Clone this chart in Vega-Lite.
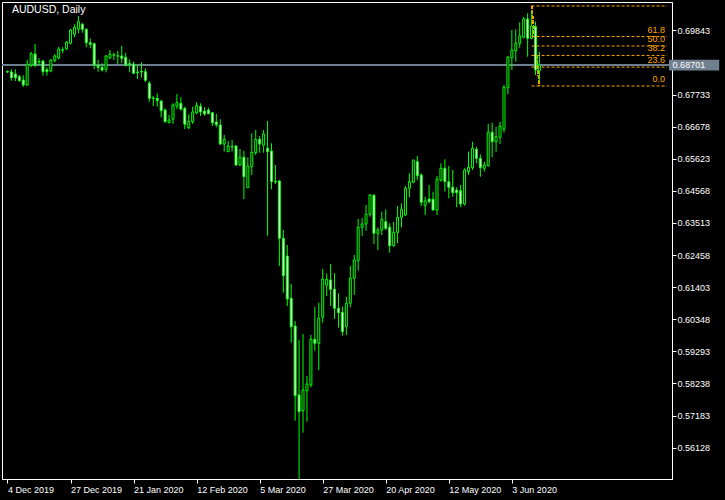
{
  "$schema": "https://vega.github.io/schema/vega-lite/v6.json",
  "width": 670,
  "height": 477,
  "autosize": {"type": "none"},
  "padding": {"left": 2, "top": 2, "right": 53, "bottom": 21},
  "background": "#000000",
  "config": {
    "view": {"stroke": "#ffffff", "strokeWidth": 1, "fill": "#000000"},
    "axis": {"grid": false, "domainColor": "#ffffff", "tickColor": "#ffffff", "labelColor": "#ffffff", "labelFont": "Liberation Sans", "labelFontSize": 9, "tickSize": 4, "zindex": 0, "labelOverlap": false, "labelSeparation": 0}
  },
  "datasets": {
    "candles": [
      {"i":0,"open":0.68493,"high":0.68526,"low":0.68443,"close":0.68476},
      {"i":1,"open":0.68476,"high":0.68565,"low":0.68190,"close":0.68289},
      {"i":2,"open":0.68411,"high":0.68565,"low":0.68180,"close":0.68289},
      {"i":3,"open":0.68322,"high":0.68378,"low":0.68157,"close":0.68190},
      {"i":4,"open":0.68213,"high":0.68367,"low":0.67983,"close":0.68049},
      {"i":5,"open":0.68049,"high":0.68871,"low":0.68016,"close":0.68730},
      {"i":6,"open":0.68707,"high":0.69144,"low":0.68631,"close":0.69078},
      {"i":7,"open":0.69068,"high":0.69397,"low":0.68631,"close":0.68707},
      {"i":8,"open":0.68822,"high":0.68927,"low":0.68707,"close":0.68805},
      {"i":9,"open":0.68838,"high":0.68871,"low":0.68355,"close":0.68486},
      {"i":10,"open":0.68552,"high":0.68631,"low":0.68355,"close":0.68486},
      {"i":11,"open":0.68509,"high":0.68894,"low":0.68466,"close":0.68871},
      {"i":12,"open":0.68848,"high":0.69059,"low":0.68795,"close":0.69003},
      {"i":13,"open":0.68937,"high":0.69308,"low":0.68894,"close":0.69233},
      {"i":14,"open":0.69190,"high":0.69289,"low":0.69092,"close":0.69210},
      {"i":15,"open":0.69233,"high":0.69495,"low":0.69200,"close":0.69463},
      {"i":16,"open":0.69419,"high":0.69890,"low":0.69387,"close":0.69857},
      {"i":17,"open":0.69716,"high":0.70044,"low":0.69617,"close":0.69946},
      {"i":18,"open":0.69880,"high":0.70317,"low":0.69748,"close":0.70130},
      {"i":19,"open":0.70044,"high":0.70097,"low":0.69768,"close":0.69880},
      {"i":20,"open":0.69880,"high":0.69913,"low":0.69288,"close":0.69439},
      {"i":21,"open":0.69439,"high":0.69584,"low":0.69255,"close":0.69387},
      {"i":22,"open":0.69407,"high":0.69439,"low":0.68575,"close":0.68707},
      {"i":23,"open":0.68684,"high":0.68871,"low":0.68486,"close":0.68631},
      {"i":24,"open":0.68631,"high":0.68762,"low":0.68486,"close":0.68542},
      {"i":25,"open":0.68565,"high":0.69036,"low":0.68466,"close":0.69003},
      {"i":26,"open":0.68947,"high":0.69200,"low":0.68894,"close":0.69059},
      {"i":27,"open":0.69026,"high":0.69111,"low":0.68871,"close":0.69045},
      {"i":28,"open":0.68993,"high":0.69167,"low":0.68739,"close":0.69012},
      {"i":29,"open":0.69003,"high":0.69341,"low":0.68762,"close":0.68927},
      {"i":30,"open":0.68960,"high":0.69111,"low":0.68651,"close":0.68707},
      {"i":31,"open":0.68749,"high":0.68894,"low":0.68466,"close":0.68730},
      {"i":32,"open":0.68739,"high":0.68815,"low":0.68411,"close":0.68433},
      {"i":33,"open":0.68476,"high":0.68707,"low":0.68246,"close":0.68457},
      {"i":34,"open":0.68496,"high":0.68795,"low":0.68289,"close":0.68476},
      {"i":35,"open":0.68486,"high":0.68598,"low":0.68157,"close":0.68203},
      {"i":36,"open":0.68105,"high":0.68180,"low":0.67500,"close":0.67612},
      {"i":37,"open":0.67622,"high":0.67687,"low":0.67359,"close":0.67602},
      {"i":38,"open":0.67612,"high":0.67776,"low":0.67336,"close":0.67533},
      {"i":39,"open":0.67523,"high":0.67556,"low":0.66987,"close":0.67204},
      {"i":40,"open":0.67227,"high":0.67283,"low":0.66810,"close":0.66843},
      {"i":41,"open":0.66810,"high":0.67063,"low":0.66790,"close":0.66899},
      {"i":42,"open":0.66922,"high":0.67447,"low":0.66767,"close":0.67392},
      {"i":43,"open":0.67359,"high":0.67753,"low":0.67250,"close":0.67467},
      {"i":44,"open":0.67447,"high":0.67645,"low":0.67204,"close":0.67260},
      {"i":45,"open":0.67283,"high":0.67336,"low":0.66603,"close":0.66757},
      {"i":46,"open":0.66646,"high":0.67086,"low":0.66593,"close":0.66856},
      {"i":47,"open":0.66843,"high":0.67336,"low":0.66767,"close":0.67162},
      {"i":48,"open":0.67129,"high":0.67480,"low":0.67086,"close":0.67382},
      {"i":49,"open":0.67349,"high":0.67447,"low":0.67030,"close":0.67162},
      {"i":50,"open":0.67195,"high":0.67316,"low":0.67040,"close":0.67096},
      {"i":51,"open":0.67227,"high":0.67303,"low":0.67086,"close":0.67106},
      {"i":52,"open":0.67139,"high":0.67162,"low":0.66701,"close":0.66810},
      {"i":53,"open":0.66833,"high":0.67096,"low":0.66659,"close":0.66744},
      {"i":54,"open":0.66734,"high":0.66922,"low":0.66077,"close":0.66110},
      {"i":55,"open":0.66110,"high":0.66406,"low":0.65857,"close":0.66264},
      {"i":56,"open":0.65857,"high":0.66208,"low":0.65857,"close":0.66044},
      {"i":57,"open":0.66031,"high":0.66241,"low":0.65857,"close":0.66011},
      {"i":58,"open":0.66044,"high":0.66077,"low":0.65387,"close":0.65420},
      {"i":59,"open":0.65420,"high":0.65945,"low":0.65387,"close":0.65673},
      {"i":60,"open":0.65673,"high":0.65880,"low":0.64302,"close":0.65035},
      {"i":61,"open":0.64673,"high":0.65673,"low":0.64673,"close":0.65387},
      {"i":62,"open":0.65364,"high":0.66461,"low":0.65091,"close":0.65837},
      {"i":63,"open":0.65824,"high":0.66570,"low":0.65748,"close":0.66264},
      {"i":64,"open":0.66264,"high":0.66372,"low":0.65824,"close":0.66110},
      {"i":65,"open":0.66077,"high":0.66570,"low":0.65824,"close":0.66438},
      {"i":66,"open":0.65969,"high":0.66866,"low":0.63096,"close":0.65857},
      {"i":67,"open":0.65880,"high":0.66133,"low":0.64621,"close":0.64871},
      {"i":68,"open":0.64881,"high":0.65420,"low":0.64795,"close":0.64861},
      {"i":69,"open":0.64894,"high":0.64927,"low":0.62100,"close":0.63010},
      {"i":70,"open":0.63010,"high":0.63283,"low":0.61222,"close":0.61781},
      {"i":71,"open":0.62429,"high":0.62790,"low":0.60785,"close":0.61015},
      {"i":72,"open":0.61038,"high":0.61508,"low":0.59578,"close":0.60104},
      {"i":73,"open":0.60127,"high":0.60291,"low":0.57015,"close":0.57836},
      {"i":74,"open":0.57860,"high":0.59668,"low":0.54901,"close":0.57311},
      {"i":75,"open":0.57344,"high":0.59865,"low":0.56620,"close":0.58025},
      {"i":76,"open":0.58002,"high":0.58484,"low":0.56982,"close":0.58221},
      {"i":77,"open":0.58188,"high":0.59832,"low":0.58113,"close":0.59691},
      {"i":78,"open":0.59691,"high":0.60762,"low":0.59316,"close":0.59559},
      {"i":79,"open":0.59559,"high":0.60893,"low":0.58682,"close":0.60380},
      {"i":80,"open":0.60413,"high":0.62002,"low":0.60236,"close":0.61663},
      {"i":81,"open":0.61475,"high":0.61858,"low":0.61114,"close":0.61663},
      {"i":82,"open":0.61640,"high":0.62166,"low":0.60785,"close":0.61334},
      {"i":83,"open":0.61334,"high":0.61858,"low":0.60358,"close":0.60710},
      {"i":84,"open":0.60710,"high":0.61202,"low":0.60072,"close":0.60565},
      {"i":85,"open":0.60578,"high":0.60762,"low":0.59809,"close":0.59941},
      {"i":86,"open":0.60104,"high":0.61091,"low":0.59832,"close":0.60874},
      {"i":87,"open":0.60874,"high":0.62100,"low":0.60742,"close":0.61695},
      {"i":88,"open":0.61695,"high":0.62462,"low":0.61147,"close":0.62297},
      {"i":89,"open":0.62274,"high":0.63645,"low":0.61946,"close":0.63372},
      {"i":90,"open":0.63372,"high":0.63668,"low":0.63086,"close":0.63480},
      {"i":91,"open":0.63480,"high":0.64105,"low":0.63260,"close":0.63799},
      {"i":92,"open":0.63799,"high":0.64467,"low":0.63720,"close":0.64434},
      {"i":93,"open":0.64424,"high":0.64457,"low":0.62823,"close":0.63175},
      {"i":94,"open":0.63175,"high":0.63372,"low":0.62626,"close":0.63283},
      {"i":95,"open":0.63283,"high":0.63885,"low":0.63119,"close":0.63635},
      {"i":96,"open":0.63556,"high":0.63963,"low":0.63283,"close":0.63339},
      {"i":97,"open":0.63372,"high":0.63503,"low":0.62537,"close":0.62767},
      {"i":98,"open":0.62767,"high":0.63556,"low":0.62734,"close":0.63207},
      {"i":99,"open":0.63207,"high":0.64072,"low":0.62846,"close":0.63701},
      {"i":100,"open":0.63701,"high":0.64160,"low":0.63372,"close":0.63963},
      {"i":101,"open":0.63776,"high":0.64729,"low":0.63743,"close":0.64654},
      {"i":102,"open":0.64654,"high":0.65147,"low":0.64358,"close":0.64871},
      {"i":103,"open":0.64851,"high":0.65607,"low":0.64818,"close":0.65574},
      {"i":104,"open":0.65528,"high":0.65716,"low":0.64927,"close":0.65068},
      {"i":105,"open":0.65091,"high":0.65147,"low":0.64072,"close":0.64193},
      {"i":106,"open":0.64082,"high":0.64378,"low":0.63776,"close":0.64236},
      {"i":107,"open":0.64302,"high":0.64762,"low":0.64160,"close":0.64213},
      {"i":108,"open":0.64292,"high":0.64542,"low":0.63908,"close":0.63941},
      {"i":109,"open":0.63941,"high":0.65058,"low":0.63776,"close":0.64950},
      {"i":110,"open":0.64927,"high":0.65476,"low":0.64871,"close":0.65311},
      {"i":111,"open":0.65311,"high":0.65607,"low":0.64542,"close":0.64871},
      {"i":112,"open":0.64871,"high":0.65387,"low":0.64325,"close":0.64687},
      {"i":113,"open":0.64687,"high":0.65255,"low":0.64378,"close":0.64509},
      {"i":114,"open":0.64598,"high":0.64687,"low":0.64029,"close":0.64509},
      {"i":115,"open":0.64575,"high":0.64762,"low":0.64029,"close":0.64138},
      {"i":116,"open":0.64138,"high":0.65311,"low":0.64082,"close":0.65255},
      {"i":117,"open":0.65199,"high":0.65857,"low":0.65091,"close":0.65344},
      {"i":118,"open":0.65331,"high":0.66185,"low":0.65255,"close":0.65969},
      {"i":119,"open":0.65936,"high":0.66021,"low":0.65475,"close":0.65640},
      {"i":120,"open":0.65640,"high":0.65771,"low":0.65035,"close":0.65331},
      {"i":121,"open":0.65311,"high":0.65528,"low":0.65199,"close":0.65420},
      {"i":122,"open":0.65397,"high":0.66767,"low":0.65364,"close":0.66494},
      {"i":123,"open":0.66494,"high":0.66810,"low":0.65673,"close":0.66185},
      {"i":124,"open":0.66185,"high":0.66678,"low":0.65857,"close":0.66349},
      {"i":125,"open":0.66330,"high":0.66843,"low":0.66110,"close":0.66701},
      {"i":126,"open":0.66593,"high":0.68049,"low":0.66481,"close":0.67973},
      {"i":127,"open":0.67960,"high":0.69003,"low":0.67743,"close":0.68960},
      {"i":128,"open":0.68947,"high":0.69857,"low":0.68542,"close":0.69200},
      {"i":129,"open":0.69177,"high":0.69880,"low":0.68815,"close":0.69420},
      {"i":130,"open":0.69420,"high":0.70110,"low":0.69275,"close":0.69660},
      {"i":131,"open":0.69617,"high":0.70294,"low":0.69584,"close":0.70218},
      {"i":132,"open":0.70218,"high":0.70406,"low":0.68979,"close":0.69584},
      {"i":133,"open":0.69584,"high":0.70458,"low":0.69551,"close":0.69988},
      {"i":134,"open":0.69965,"high":0.70130,"low":0.68378,"close":0.68542},
      {"i":135,"open":0.68519,"high":0.69144,"low":0.68157,"close":0.68701}
    ],
    "fib": [
      {"level":"100.0","price":0.70646,"show":false},
      {"level":"61.8","price":0.69641,"show":true},
      {"level":"50.0","price":0.69331,"show":true},
      {"level":"38.2","price":0.69021,"show":true},
      {"level":"23.6","price":0.68637,"show":true},
      {"level":"0.0","price":0.68016,"show":true}
    ],
    "info": [
      {"symbol": "AUDUSD, Daily", "bid": 0.68701, "bidLabel": "0.68701"}
    ]
  },
  "layer": [
    {
      "data": {"name": "candles"},
      "mark": {"type": "rule", "color": "#708090", "strokeWidth": 1},
      "encoding": {"y": {"datum": 0.68701, "type": "quantitative"}}
    },
    {
      "data": {"name": "candles"},
      "mark": {"type": "rule", "color": "#ffa500", "strokeWidth": 1, "strokeDash": [3, 2]},
      "encoding": {
        "x": {"datum": 133, "type": "quantitative"},
        "x2": {"datum": 135},
        "y": {"datum": 0.70646, "type": "quantitative"},
        "y2": {"datum": 0.68016}
      }
    },
    {
      "data": {"name": "candles"},
      "mark": {"type": "rule", "color": "#00ff00", "strokeWidth": 1, "clip": true},
      "encoding": {
        "x": {"field": "i", "type": "quantitative", "title": null,
              "scale": {"domain": [-0.125, 167.375], "nice": false, "zero": false},
              "axis": {"orient": "bottom", "values": [0,16,32,48,64,80,96,112,128], "tickCount": 30, "labelAlign": "left", "labelBaseline": "top", "labelPadding": 2, "labelFlush": false, "labelOverlap": false,
                       "labelExpr": "['4 Dec 2019','27 Dec 2019','21 Jan 2020','12 Feb 2020','5 Mar 2020','27 Mar 2020','20 Apr 2020','12 May 2020','3 Jun 2020'][round(datum.value/16)]"}},
        "y": {"field": "low", "type": "quantitative", "title": null,
              "scale": {"domain": [0.55098, 0.70777], "nice": false, "zero": false},
              "axis": {"orient": "right", "values": [0.56128,0.57183,0.58238,0.59293,0.60348,0.61403,0.62458,0.63513,0.64568,0.65623,0.66678,0.67733,0.69843], "tickCount": 30, "format": ".5f", "labelPadding": 1, "labelBaseline": "middle", "labelOverlap": false, "labelFlush": false, "labelSeparation": 0}},
        "y2": {"field": "high"}
      }
    },
    {
      "data": {"name": "candles"},
      "mark": {"type": "bar", "width": 2, "stroke": "#00ff00", "strokeWidth": 1, "clip": true},
      "encoding": {
        "x": {"field": "i", "type": "quantitative", "title": null},
        "y": {"field": "open", "type": "quantitative", "title": null},
        "y2": {"field": "close"},
        "fill": {"condition": {"test": "datum.close < datum.open", "value": "#ffffff"}, "value": "#000000"}
      }
    },
    {
      "data": {"name": "fib"},
      "mark": {"type": "rule", "color": "#ffa500", "strokeWidth": 1, "strokeDash": [3, 2], "clip": true},
      "encoding": {
        "x": {"datum": 133, "type": "quantitative"},
        "x2": {"datum": 167.375},
        "y": {"field": "price", "type": "quantitative", "title": null}
      }
    },
    {
      "data": {"name": "fib"},
      "transform": [{"filter": "datum.show"}],
      "mark": {"type": "text", "color": "#ffa500", "align": "right", "baseline": "bottom", "dy": -2, "font": "Liberation Sans", "fontSize": 9},
      "encoding": {
        "x": {"datum": 166.9, "type": "quantitative"},
        "y": {"field": "price", "type": "quantitative", "title": null},
        "text": {"field": "level"}
      }
    },
    {
      "data": {"name": "info"},
      "mark": {"type": "text", "color": "#ffffff", "align": "left", "baseline": "alphabetic", "font": "Liberation Sans", "fontSize": 10.5},
      "encoding": {
        "x": {"datum": 1.125, "type": "quantitative"},
        "y": {"datum": 0.70415, "type": "quantitative"},
        "text": {"field": "symbol"}
      }
    },
    {
      "data": {"name": "info"},
      "mark": {"type": "rect", "color": "#708090"},
      "encoding": {
        "x": {"datum": 167.875, "type": "quantitative"},
        "x2": {"datum": 180.625},
        "y": {"datum": 0.68876, "type": "quantitative"},
        "y2": {"datum": 0.68526}
      }
    },
    {
      "data": {"name": "info"},
      "mark": {"type": "text", "color": "#ffffff", "align": "left", "baseline": "middle", "font": "Liberation Sans", "fontSize": 9},
      "encoding": {
        "x": {"datum": 168.8, "type": "quantitative"},
        "y": {"field": "bid", "type": "quantitative", "title": null},
        "text": {"field": "bidLabel"}
      }
    }
  ]
}
